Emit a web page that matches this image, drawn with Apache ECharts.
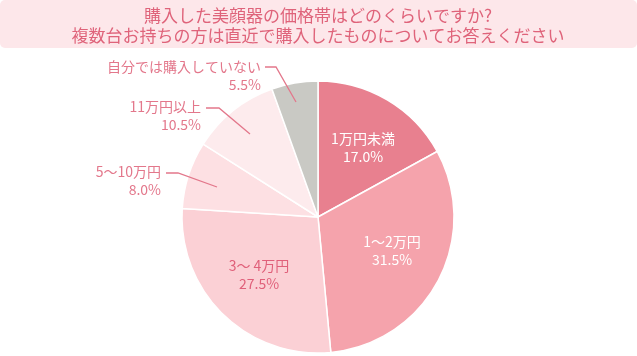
<!DOCTYPE html>
<html><head><meta charset="utf-8">
<script src="https://cdn.jsdelivr.net/npm/echarts@6/dist/echarts.min.js"></script>
<style>html,body{margin:0;padding:0;background:#fff}#c{width:637px;height:356px}</style>
</head><body><div id="c"></div>
<script>
const titleLines = ['購入した美顔器の価格帯はどのくらいですか?', '複数台お持ちの方は直近で購入したものについてお答えください'];
const categories = ['1万円未満', '1～2万円', '3～ 4万円', '5～10万円', '11万円以上', '自分では購入していない'];
const values = [17.0, 31.5, 27.5, 8.0, 10.5, 5.5];
const colors = ['#e8808f', '#f5a3ac', '#fbd0d5', '#fde0e3', '#fdebed', '#c9c9c4'];
const labelColors = ['#ffffff', '#ffffff', '#e0607a', '#e3778b', '#e3778b', '#e3778b'];
const inside = [true, true, true, false, false, false];

// label anchor points (centre for inside labels, right edge for outside)
const layouts = [
  {x: 363, y: 148, align: 'center'},
  {x: 392, y: 251, align: 'center'},
  {x: 259, y: 275, align: 'center'},
  {x: 161, y: 181, align: 'right', pts: [[166,173],[178,173],[217,187]]},
  {x: 201, y: 116, align: 'right', pts: [[206,108],[219,108],[250,134]]},
  {x: 261, y: 76, align: 'right', pts: [[265,67],[276,67],[296,102]]}
];
const LH = 18;
const font = '"Noto Sans CJK JP"';
const pct = v => v.toFixed(1) + '%';
const clear = 'rgba(0,0,0,0)';

const common = {
  type: 'pie',
  center: [318, 217],
  radius: [0, 136],
  startAngle: 90,
  clockwise: true,
  emphasis: {disabled: true},
  label: {position: 'outside', fontFamily: font, fontSize: 14, lineHeight: LH}
};

const chart = echarts.init(document.getElementById('c'), null, {renderer: 'canvas'});
chart.setOption({
  animation: false,
  graphic: [
    {type: 'rect', shape: {x: 0, y: 0, width: 637, height: 48, r: 5}, style: {fill: '#fde7ea'}, z: 0},
    {type: 'text', x: 318, y: 16, style: {text: titleLines[0], fill: '#df637a', font: '17px ' + font, align: 'center', verticalAlign: 'middle'}, z: 1},
    {type: 'text', x: 318, y: 36, style: {text: titleLines[1], fill: '#df637a', font: '17px ' + font, align: 'center', verticalAlign: 'middle'}, z: 1}
  ],
  series: [
    // visible slices + inside labels
    Object.assign({}, common, {
      z: 2,
      itemStyle: {borderColor: '#ffffff', borderWidth: 1.5},
      labelLine: {show: false},
      labelLayout: function (p) {
        const L = layouts[p.dataIndex];
        return {x: L.x, y: L.y, align: L.align, verticalAlign: 'middle'};
      },
      data: categories.map((c, i) => ({
        name: c,
        value: values[i],
        itemStyle: {color: colors[i]},
        label: {show: inside[i], color: labelColors[i], formatter: c + '\n' + pct(values[i])}
      }))
    }),
    // outside name labels with leader lines (drawn above slices)
    Object.assign({}, common, {
      z: 3,
      silent: true,
      itemStyle: {color: clear},
      labelLine: {show: true, lineStyle: {color: '#e3778b', width: 1.3}},
      labelLayout: function (p) {
        const L = layouts[p.dataIndex];
        const o = {x: L.x, y: L.y - LH / 2, align: L.align, verticalAlign: 'middle'};
        if (L.pts) o.labelLinePoints = L.pts;
        return o;
      },
      data: categories.map((c, i) => ({
        name: c,
        value: values[i],
        label: {show: !inside[i], color: labelColors[i], formatter: c},
        labelLine: {show: !inside[i]}
      }))
    }),
    // outside percentage labels
    Object.assign({}, common, {
      z: 3,
      silent: true,
      itemStyle: {color: clear},
      labelLine: {show: false},
      labelLayout: function (p) {
        const L = layouts[p.dataIndex];
        return {x: L.x, y: L.y + LH / 2, align: L.align, verticalAlign: 'middle'};
      },
      data: categories.map((c, i) => ({
        name: c,
        value: values[i],
        label: {show: !inside[i], color: labelColors[i], formatter: pct(values[i])}
      }))
    })
  ]
});
</script>
</body></html>
